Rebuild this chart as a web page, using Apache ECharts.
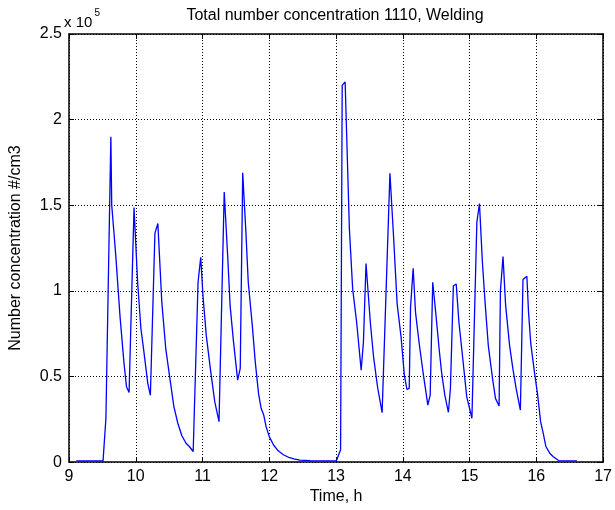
<!DOCTYPE html>
<html>
<head>
<meta charset="utf-8">
<script src="https://cdn.jsdelivr.net/npm/echarts@6/dist/echarts.min.js"></script>
<style>html,body{margin:0;padding:0;background:#fff;}#c{width:615px;height:510px;}</style>
</head>
<body>
<div id="c"></div>
<script>
var titleText = 'Total number concentration 1110, Welding';
var xName = 'Time, h';
var yName = 'Number concentration #/cm3';
var xTicks = [9, 10, 11, 12, 13, 14, 15, 16, 17];
var yTicks = [0, 50000, 100000, 150000, 200000, 250000];
var yScaleLabel = 'x 10';
var yScaleExp = '5';

var times = [9.11, 9.51, 9.553, 9.627, 9.64, 9.70, 9.763, 9.822, 9.861, 9.900,
  9.974, 10.028, 10.077, 10.116, 10.18, 10.219, 10.287, 10.331, 10.39, 10.449,
  10.508, 10.571, 10.63, 10.689, 10.753, 10.802, 10.86, 10.933, 10.973, 11.007,
  11.056, 11.12, 11.183, 11.247, 11.325, 11.379, 11.413, 11.462, 11.526, 11.565,
  11.602, 11.65, 11.685, 11.745, 11.79, 11.839, 11.878, 11.917, 11.952, 12.0,
  12.064, 12.133, 12.211, 12.294, 12.368, 12.456, 12.612, 12.637, 13.004, 13.068,
  13.092, 13.136, 13.2, 13.249, 13.308, 13.376, 13.41, 13.449, 13.513, 13.562,
  13.621, 13.69, 13.807, 13.861, 13.915, 13.974, 14.023, 14.062, 14.096, 14.116,
  14.155, 14.19, 14.243, 14.302, 14.375, 14.41, 14.448, 14.497, 14.546, 14.58,
  14.629, 14.683, 14.713, 14.757, 14.8, 14.84, 14.898, 14.957, 15.035, 15.109,
  15.148, 15.192, 15.232, 15.28, 15.344, 15.388, 15.442, 15.462, 15.501, 15.54,
  15.599, 15.648, 15.697, 15.761, 15.8, 15.858, 15.883, 15.917, 15.971, 16.02,
  16.064, 16.108, 16.143, 16.201, 16.25, 16.333, 16.607];

var conc = [700, 700, 25600, 190000, 150000, 121000, 85700, 58500, 44000, 40700,
  148600, 105000, 78000, 66300, 46000, 39000, 133700, 139300, 93400, 66300,
  49800, 32400, 22700, 15500, 11000, 9100, 6200, 105000, 119600, 97000,
  74000, 53700, 35300, 23600, 157700, 118600, 91500, 71100, 47900, 54700,
  169000, 134000, 105000, 80000, 58500, 40000, 31400, 27500, 20700, 14900,
  10000, 6600, 4300, 2700, 1900, 1200, 900, 700, 700, 7200,
  220000, 222000, 136000, 101000, 81800, 53700, 70000, 116000, 81800, 61400,
  44000, 28900, 168600, 132000, 92400, 73000, 50800, 42400, 43000, 90500,
  113200, 87600, 70000, 52700, 33300, 39100, 105000, 85700, 65300, 52700,
  39100, 29100, 43000, 103000, 104000, 81800, 60500, 38200, 25600, 140000,
  151000, 116700, 93400, 68200, 48800, 37200, 32800, 100000, 120000, 91500,
  68200, 54700, 43000, 30400, 106600, 108500, 87600, 69000, 52700, 39100,
  23600, 15900, 9100, 5200, 3300, 900, 700];

var pts = times.map(function (t, i) { return [t, conc[i]]; });

var FONT = 'Liberation Sans, Arial, sans-serif';
var FS = 16;
var chart = echarts.init(document.getElementById('c'), null, {renderer: 'canvas'});

var gridL = 64, gridR = 5, gridT = 34, gridB = 46;
function xAxisCfg(pos, showLabel) {
  return {
    type: 'value', position: pos, min: xTicks[0], max: xTicks[xTicks.length - 1], interval: 1,
    name: showLabel ? xName : '', nameLocation: 'middle', nameGap: 26,
    nameTextStyle: {color: '#000', fontSize: FS, fontFamily: FONT},
    axisLine: {show: true, onZero: false, lineStyle: {color: '#000', width: 1.5}},
    axisTick: {show: true, inside: true, length: 5, lineStyle: {color: '#000'}},
    axisLabel: {show: showLabel, color: '#000', fontSize: FS, fontFamily: FONT, margin: 6},
    splitLine: {show: showLabel, lineStyle: {color: '#000', type: [1, 2], width: 1}}
  };
}
function yAxisCfg(pos, showLabel) {
  return {
    type: 'value', position: pos, min: yTicks[0], max: yTicks[yTicks.length - 1], interval: 50000,
    name: showLabel ? yName : '', nameLocation: 'middle', nameGap: 45,
    nameTextStyle: {color: '#000', fontSize: FS, fontFamily: FONT},
    axisLine: {show: true, onZero: false, lineStyle: {color: '#000', width: 1.5}},
    axisTick: {show: true, inside: true, length: 5, lineStyle: {color: '#000'}},
    axisLabel: {show: showLabel, color: '#000', fontSize: FS, fontFamily: FONT, margin: 7,
      formatter: function (v) { return String(v / 100000); }},
    splitLine: {show: showLabel, lineStyle: {color: '#000', type: [1, 2], width: 1}}
  };
}

chart.setOption({
  animation: false,
  backgroundColor: '#fff',
  grid: {left: gridL, right: gridR, top: gridT, bottom: gridB, containLabel: false},
  xAxis: [xAxisCfg('bottom', true), xAxisCfg('top', false)],
  yAxis: [yAxisCfg('left', true), yAxisCfg('right', false)],
  graphic: [
    {type: 'text', x: 335, y: 16, style: {text: titleText, font: FS + 'px ' + FONT, fill: '#000', align: 'center', verticalAlign: 'middle'}, z: 10},
    {type: 'text', x: 64, y: 22.5, style: {text: yScaleLabel, font: '15px ' + FONT, fill: '#000', align: 'left', verticalAlign: 'middle'}, z: 10},
    {type: 'text', x: 94.5, y: 13.5, style: {text: yScaleExp, font: '10px ' + FONT, fill: '#000', align: 'left', verticalAlign: 'middle'}, z: 10}
  ],
  series: [{
    type: 'line', data: pts, xAxisIndex: 0, yAxisIndex: 0,
    showSymbol: false, symbol: 'none', clip: false, z: 5,
    lineStyle: {color: '#0000ff', width: 1.3},
    itemStyle: {color: '#0000ff'}
  }]
});
</script>
</body>
</html>
